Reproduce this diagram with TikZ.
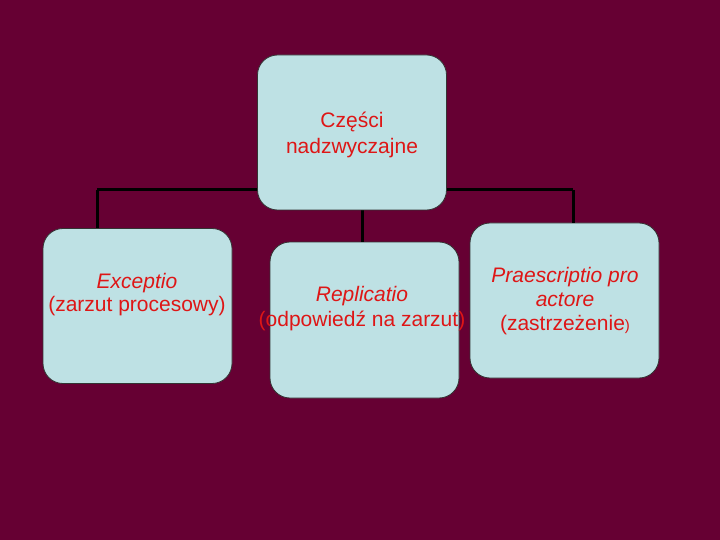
\documentclass[tikz,border=0pt]{standalone}
\usepackage{fontspec}
\setmainfont{Liberation Sans}
\definecolor{slidebg}{RGB}{102,0,51}
\definecolor{boxfill}{RGB}{190,225,228}
\definecolor{boxtext}{RGB}{222,22,22}

\begin{document}
\begin{tikzpicture}[
            x = 1pt, y = -1pt,
            box/.style = {draw = black!80, line width = 0.8pt, fill = boxfill,
                          rounded corners = 20pt, inner sep = 0pt},
            txt/.style = {text = boxtext, align = center, inner sep = 0pt,
                          font = \fontsize{21}{24}\selectfont},
            link/.style = {draw = black, line width = 3pt}
            ]
            \fill[slidebg] (0,0) rectangle (720,540);
            \useasboundingbox (0,0) rectangle (720,540);

            % connectors first, boxes sit on top
            \coordinate (jl) at (97,190);
            \coordinate (jr) at (573,190);
            \coordinate (jm) at (362,200);
            \draw[link] (jl) -- (jr);

            \node[box, minimum width = 189pt, minimum height = 155pt] (left) at (137.5,306) {};
            \node[box, minimum width = 189pt, minimum height = 156pt] (mid) at (364.5,320) {};
            \node[box, minimum width = 189pt, minimum height = 155pt] (right) at (564.5,300.5) {};
            \draw[link] (jl) -- (jl |- left.north);
            \draw[link] (jr) -- (jr |- right.north);
            \draw[link] (jm) -- (jm |- mid.north);

            \node[box, minimum width = 189pt, minimum height = 155pt] (top) at (352,132.5) {};

            \node[txt, font = \fontsize{21}{26}\selectfont] (toptxt) at (352,135) {Części\\nadzwyczajne};
            \node[txt, font = \fontsize{21}{23}\selectfont] (lefttxt) at (137,295) {\textit{Exceptio}\\(zarzut procesowy)};
            \node[txt, font = \fontsize{21}{25}\selectfont] (midtxt) at (362,309) {\textit{Replicatio}\\(odpowiedź na zarzut)};
            \node[txt] (righttxt) at (565,301) {\textit{Praescriptio pro}\\\textit{actore}\\(zastrzeżenie{\fontsize{15}{15}\selectfont)}};
\end{tikzpicture}
\end{document}
